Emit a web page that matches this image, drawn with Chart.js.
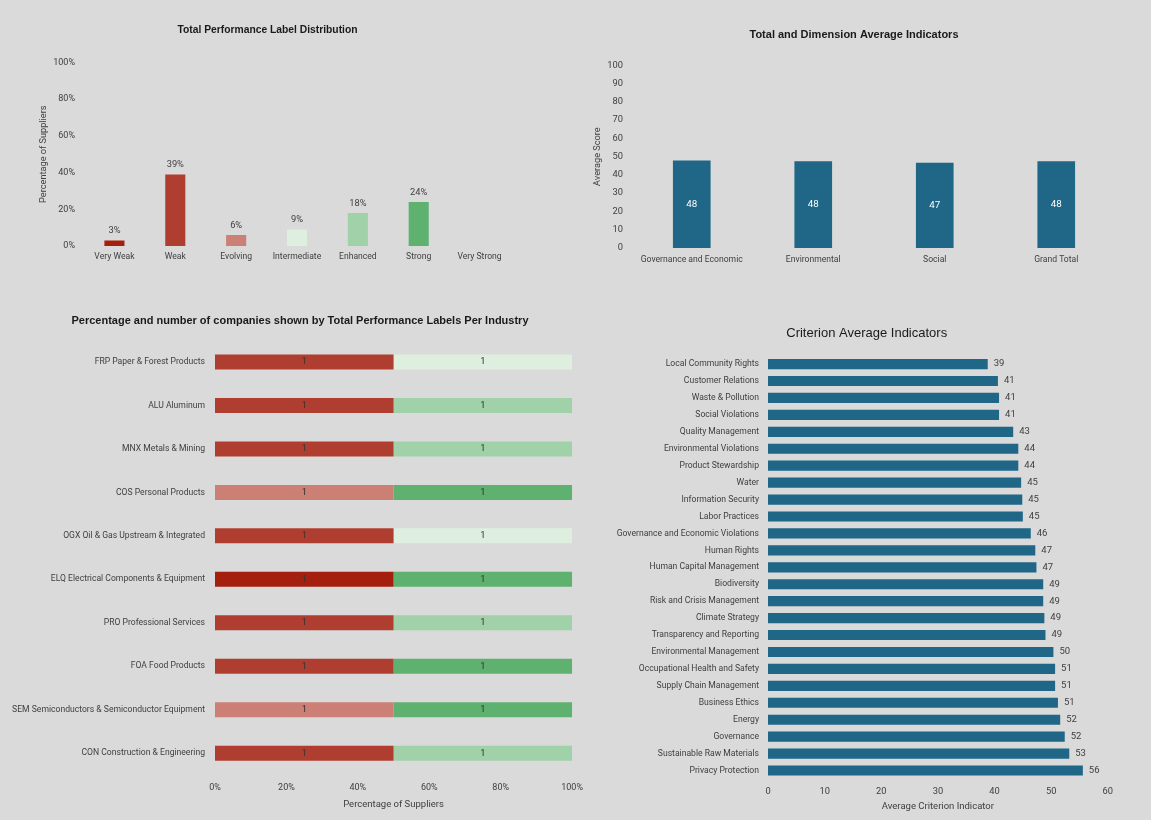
<!DOCTYPE html>
<html>
<head>
<meta charset="utf-8">
<script src="https://cdn.jsdelivr.net/npm/chart.js@4.4.1/dist/chart.umd.min.js"></script>
<style>
  html, body { margin: 0; padding: 0; background: #d9dad9; }
  body { width: 1151px; height: 820px; position: relative; overflow: hidden; }
  .box { position: absolute; }
</style>
</head>
<body>
<div class="box" style="left:10px;top:15px;width:515px;height:260px"><canvas id="labelChart"></canvas></div>
<div class="box" style="left:580px;top:15px;width:545px;height:260px"><canvas id="dimensionChart"></canvas></div>
<div class="box" style="left:0px;top:300px;width:590px;height:520px"><canvas id="industryChart"></canvas></div>
<div class="box" style="left:600px;top:320px;width:520px;height:500px"><canvas id="criterionChart"></canvas></div>

<script>
// performance labels
const labelNames = ["Very Weak", "Weak", "Evolving", "Intermediate", "Enhanced", "Strong", "Very Strong"];
const labelColors = ["#a51f0f", "#b03e30", "#cc7f74", "#deefe0", "#a0d1a9", "#5fb170", "#2e8b57"];
const labelShares = [3, 39, 6, 9, 18, 24, 0];

// dimensions
const dimensionNames = ["Governance and Economic", "Environmental", "Social", "Grand Total"];
const dimensionScores = [47.8, 47.5, 46.6, 47.5];

// industries (count of companies per label)
const industries = [
  "FRP Paper & Forest Products",
  "ALU Aluminum",
  "MNX Metals & Mining",
  "COS Personal Products",
  "OGX Oil & Gas Upstream & Integrated",
  "ELQ Electrical Components & Equipment",
  "PRO Professional Services",
  "FOA Food Products",
  "SEM Semiconductors & Semiconductor Equipment",
  "CON Construction & Engineering"
];
const veryWeakCounts     = [0, 0, 0, 0, 0, 1, 0, 0, 0, 0];
const weakCounts         = [1, 1, 1, 0, 1, 0, 1, 1, 0, 1];
const evolvingCounts     = [0, 0, 0, 1, 0, 0, 0, 0, 1, 0];
const intermediateCounts = [1, 0, 0, 0, 1, 0, 0, 0, 0, 0];
const enhancedCounts     = [0, 1, 1, 0, 0, 0, 1, 0, 0, 1];
const strongCounts       = [0, 0, 0, 1, 0, 1, 0, 1, 1, 0];
const veryStrongCounts   = [0, 0, 0, 0, 0, 0, 0, 0, 0, 0];

// criteria
const criteria = [
  "Local Community Rights", "Customer Relations", "Waste & Pollution", "Social Violations",
  "Quality Management", "Environmental Violations", "Product Stewardship", "Water",
  "Information Security", "Labor Practices", "Governance and Economic Violations", "Human Rights",
  "Human Capital Management", "Biodiversity", "Risk and Crisis Management", "Climate Strategy",
  "Transparency and Reporting", "Environmental Management", "Occupational Health and Safety",
  "Supply Chain Management", "Business Ethics", "Energy", "Governance", "Sustainable Raw Materials",
  "Privacy Protection"
];
const criterionScores = [
  38.8, 40.6, 40.8, 40.8, 43.3, 44.2, 44.2, 44.7, 44.9, 45.0, 46.4, 47.2,
  47.4, 48.6, 48.6, 48.8, 49.0, 50.4, 50.7, 50.7, 51.2, 51.6, 52.4, 53.2, 55.6
];

const FONT = "Roboto, 'Liberation Sans', Arial, sans-serif";
const TITLE_FONT = "'Liberation Sans', Arial, sans-serif";
const TEXT = "#404040";
const CAT = 8.6;
Chart.defaults.font.family = FONT;
Chart.defaults.color = TEXT;
Chart.defaults.animation = false;

// draws value labels on bars
function valueLabels(cfg) {
  return {
    id: "valueLabels",
    afterDatasetsDraw(chart) {
      const ctx = chart.ctx;
      ctx.save();
      ctx.font = cfg.font;
      ctx.fillStyle = cfg.color;
      chart.data.datasets.forEach((ds, di) => {
        const meta = chart.getDatasetMeta(di);
        meta.data.forEach((bar, i) => {
          const raw = cfg.value ? cfg.value(di, i) : ds.data[i];
          if (!raw) return;
          const text = cfg.format(raw);
          const p = bar.getProps(["x", "y", "base"], true);
          if (cfg.anchor === "top") {
            ctx.textAlign = "center"; ctx.textBaseline = "bottom";
            ctx.fillText(text, p.x, p.y - cfg.offset);
          } else if (cfg.anchor === "vcenter") {
            ctx.textAlign = "center"; ctx.textBaseline = "middle";
            ctx.fillText(text, p.x, (p.y + p.base) / 2);
          } else if (cfg.anchor === "hcenter") {
            ctx.textAlign = "center"; ctx.textBaseline = "middle";
            ctx.fillText(text, (p.x + p.base) / 2, p.y);
          } else {
            ctx.textAlign = "left"; ctx.textBaseline = "middle";
            ctx.fillText(text, p.x + cfg.offset, p.y);
          }
        });
      });
      ctx.restore();
    }
  };
}

// nudges the chart title sideways
function titleShift(dx) {
  return {
    id: "titleShift",
    afterLayout(chart) {
      if (chart.titleBlock) {
        chart.titleBlock.left += dx;
        chart.titleBlock.right += dx;
      }
    }
  };
}

const noGrid = { display: false, drawTicks: false };
const noBorder = { display: false };

// chart 1
new Chart(document.getElementById("labelChart"), {
  type: "bar",
  data: {
    labels: labelNames,
    datasets: [{
      data: labelShares,
      backgroundColor: labelColors,
      barPercentage: 0.33,
      categoryPercentage: 1
    }]
  },
  options: {
    responsive: true,
    maintainAspectRatio: false,
    layout: { padding: { right: 15 } },
    plugins: {
      legend: { display: false },
      tooltip: { enabled: false },
      title: {
        display: true,
        text: "Total Performance Label Distribution",
        color: "#1a1a1a",
        font: { family: TITLE_FONT, size: 10.3, weight: "bold" },
        padding: { top: 9, bottom: 26 }
      }
    },
    scales: {
      x: {
        grid: noGrid, border: noBorder,
        ticks: { font: { size: CAT }, padding: 6, maxRotation: 0, autoSkip: false },
        afterFit(s) { s.height = 29; }
      },
      y: {
        min: 0, max: 100,
        grid: noGrid, border: noBorder,
        ticks: { stepSize: 20, font: { size: 9 }, padding: 9, callback: v => v + "%" },
        title: { display: true, text: "Percentage of Suppliers", font: { size: 9.2 }, padding: { top: 28 } },
        afterFit(s) { s.width = 74; }
      }
    }
  },
  plugins: [
    valueLabels({ anchor: "top", offset: 5, font: "9.3px " + FONT, color: TEXT, format: v => v + "%" }),
    titleShift(7.5)
  ]
});

// chart 2
new Chart(document.getElementById("dimensionChart"), {
  type: "bar",
  data: {
    labels: dimensionNames,
    datasets: [{
      data: dimensionScores,
      backgroundColor: "#1f6687",
      barPercentage: 0.31,
      categoryPercentage: 1
    }]
  },
  options: {
    responsive: true,
    maintainAspectRatio: false,
    layout: { padding: { right: 8 } },
    plugins: {
      legend: { display: false },
      tooltip: { enabled: false },
      title: {
        display: true,
        text: "Total and Dimension Average Indicators",
        color: "#1a1a1a",
        font: { family: TITLE_FONT, size: 11, weight: "bold" },
        padding: { top: 13, bottom: 24 }
      }
    },
    scales: {
      x: {
        grid: noGrid, border: noBorder,
        ticks: { font: { size: CAT }, padding: 7, maxRotation: 0, autoSkip: false },
        afterFit(s) { s.height = 27; }
      },
      y: {
        min: 0, max: 100,
        grid: noGrid, border: noBorder,
        ticks: { stepSize: 10, font: { size: 9.3 }, padding: 8 },
        title: { display: true, text: "Average Score", font: { size: 9.2 }, padding: { top: 12 } },
        afterFit(s) { s.width = 51; }
      }
    }
  },
  plugins: [
    valueLabels({ anchor: "vcenter", font: "9.8px " + FONT, color: "#ffffff", format: v => Math.round(v) }),
    titleShift(5.5)
  ]
});

// chart 3
const countSets = [veryWeakCounts, weakCounts, evolvingCounts, intermediateCounts, enhancedCounts, strongCounts, veryStrongCounts];
const industryTotals = industries.map((_, i) => countSets.reduce((s, c) => s + c[i], 0));
new Chart(document.getElementById("industryChart"), {
  type: "bar",
  data: {
    labels: industries,
    datasets: countSets.map((counts, k) => ({
      label: labelNames[k],
      data: counts.map((c, i) => c / industryTotals[i] * 100),
      backgroundColor: labelColors[k],
      barPercentage: 0.345,
      categoryPercentage: 1
    }))
  },
  options: {
    indexAxis: "y",
    responsive: true,
    maintainAspectRatio: false,
    layout: { padding: { right: 17 } },
    plugins: {
      legend: { display: false },
      tooltip: { enabled: false },
      title: {
        display: true,
        text: "Percentage and number of companies shown by Total Performance Labels Per Industry",
        color: "#1a1a1a",
        font: { family: TITLE_FONT, size: 11, weight: "bold" },
        padding: { top: 14, bottom: 13 }
      }
    },
    scales: {
      x: {
        stacked: true, min: 0, max: 100,
        grid: noGrid, border: noBorder,
        ticks: { stepSize: 20, font: { size: 9 }, padding: 7, callback: v => v + "%" },
        title: { display: true, text: "Percentage of Suppliers", font: { size: 9.5 }, padding: { top: 4, bottom: 10 } },
        afterFit(s) { s.height = 45; }
      },
      y: {
        stacked: true,
        grid: noGrid, border: noBorder,
        ticks: { font: { size: CAT }, padding: 10, autoSkip: false },
        afterFit(s) { s.width = 215; }
      }
    }
  },
  plugins: [
    valueLabels({
      anchor: "hcenter", font: "9.3px " + FONT, color: "#333333",
      value: (di, i) => countSets[di][i], format: v => v
    }),
    titleShift(13.5)
  ]
});

// chart 4
new Chart(document.getElementById("criterionChart"), {
  type: "bar",
  data: {
    labels: criteria,
    datasets: [{
      data: criterionScores,
      backgroundColor: "#1f6687",
      barPercentage: 0.6,
      categoryPercentage: 1
    }]
  },
  options: {
    indexAxis: "y",
    responsive: true,
    maintainAspectRatio: false,
    layout: { padding: { right: 12 } },
    plugins: {
      legend: { display: false },
      tooltip: { enabled: false },
      title: {
        display: true,
        text: "Criterion Average Indicators",
        color: "#1a1a1a",
        font: { family: TITLE_FONT, size: 13, weight: "normal" },
        padding: { top: 6, bottom: 14 }
      }
    },
    scales: {
      x: {
        min: 0, max: 60,
        grid: noGrid, border: noBorder,
        ticks: { stepSize: 10, font: { size: 9.3 }, padding: 7 },
        title: { display: true, text: "Average Criterion Indicator", font: { size: 9.5 }, padding: { top: 4, bottom: 8 } },
        afterFit(s) { s.width; s.height = 41; }
      },
      y: {
        grid: noGrid, border: noBorder,
        ticks: { font: { size: CAT }, padding: 9, autoSkip: false },
        afterFit(s) { s.width = 168; }
      }
    }
  },
  plugins: [
    valueLabels({ anchor: "end", offset: 6, font: "9.5px " + FONT, color: TEXT, format: v => Math.round(v) }),
    titleShift(12.7)
  ]
});
</script>
</body>
</html>
